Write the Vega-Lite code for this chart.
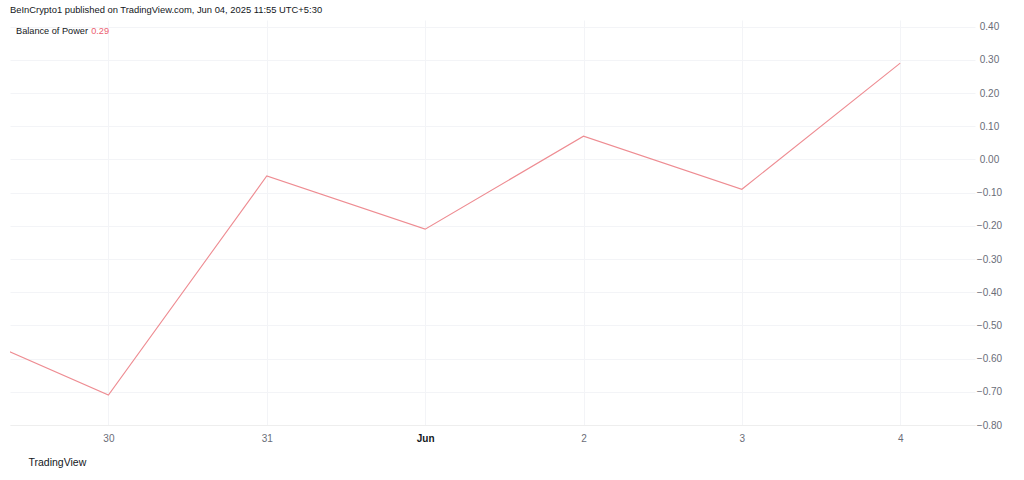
{
  "$schema": "https://vega.github.io/schema/vega-lite/v6.json",
  "width": 965,
  "height": 405,
  "autosize": {"type": "none"},
  "padding": {"left": 10, "top": 20, "right": 49, "bottom": 55},
  "background": "#ffffff",
  "config": {
    "font": "Liberation Sans",
    "view": {"stroke": null}
  },
  "title": {
    "text": "BeInCrypto1 published on TradingView.com, Jun 04, 2025 11:55 UTC+5:30",
    "anchor": "start",
    "frame": "group",
    "fontSize": 9.4,
    "fontWeight": "normal",
    "color": "#131722",
    "offset": 5
  },
  "data": {
    "values": [
      {"date": "2025-05-29", "value": -0.50, "series": "Balance of Power"},
      {"date": "2025-05-30", "value": -0.71, "series": "Balance of Power"},
      {"date": "2025-05-31", "value": -0.05, "series": "Balance of Power"},
      {"date": "2025-06-01", "value": -0.21, "series": "Balance of Power"},
      {"date": "2025-06-02", "value": 0.07, "series": "Balance of Power"},
      {"date": "2025-06-03", "value": -0.09, "series": "Balance of Power"},
      {"date": "2025-06-04", "value": 0.29, "series": "Balance of Power"}
    ]
  },
  "transform": [
    {"joinaggregate": [{"op": "argmax", "field": "date", "as": "lastRow"}]},
    {"calculate": "format(datum.lastRow.value, '.2f')", "as": "bop"}
  ],
  "mark": {"type": "line", "clip": true, "strokeWidth": 1.1, "interpolate": "linear"},
  "encoding": {
    "x": {
      "field": "date",
      "type": "temporal",
      "scale": {
        "type": "utc",
        "domain": [
          {"year": 2025, "month": 5, "date": 29, "hours": 9, "minutes": 5, "utc": true},
          {"year": 2025, "month": 6, "date": 4, "hours": 11, "minutes": 20, "utc": true}
        ]
      },
      "axis": {
        "tickCount": {"interval": "day", "step": 1},
        "labelExpr": "utcdate(datum.value) == 1 ? 'Jun' : '' + utcdate(datum.value)",
        "labelFontWeight": {"condition": {"test": "utcdate(datum.value) == 1", "value": "bold"}, "value": "normal"},
        "labelColor": {"condition": {"test": "utcdate(datum.value) == 1", "value": "#131722"}, "value": "#6a6d78"},
        "labelFontSize": 10,
        "labelPadding": 8,
        "labelBaseline": "top",
        "ticks": false,
        "domain": true,
        "domainColor": "#eeeeee",
        "grid": true,
        "gridColor": "#f3f4f7",
        "labelFlush": false,
        "labelOverlap": false,
        "title": "TradingView",
        "titleFontSize": 10.5,
        "titleFontWeight": "normal",
        "titleColor": "#131722",
        "titleAnchor": "start",
        "titleAlign": "left",
        "titleBaseline": "middle",
        "titleX": 18,
        "titleY": 37
      }
    },
    "y": {
      "field": "value",
      "type": "quantitative",
      "scale": {"domain": [-0.8, 0.42], "nice": false, "zero": false},
      "axis": {
        "orient": "right",
        "values": [-0.8, -0.7, -0.6, -0.5, -0.4, -0.3, -0.2, -0.1, 0, 0.1, 0.2, 0.3, 0.4],
        "format": ".2f",
        "labelAlign": "center",
        "labelPadding": 14,
        "labelBaseline": "middle",
        "labelFontSize": 10,
        "labelColor": "#6a6d78",
        "labelFlush": false,
        "labelOverlap": false,
        "ticks": false,
        "domain": false,
        "grid": true,
        "gridColor": "#f3f4f7",
        "title": null
      }
    },
    "color": {
      "field": "bop",
      "type": "nominal",
      "scale": {"range": ["#ee8c92"]},
      "legend": {
        "orient": "top-left",
        "offset": 6,
        "padding": 0,
        "title": "Balance of Power",
        "titleOrient": "left",
        "titleFontSize": 9.2,
        "titleFontWeight": "normal",
        "titleColor": "#131722",
        "titlePadding": 5,
        "titleBaseline": "middle",
        "labelColor": "#ec6070",
        "labelFontSize": 9.2,
        "labelOffset": -12,
        "symbolSize": 0,
        "symbolOpacity": 0,
        "symbolStrokeWidth": 0
      }
    }
  }
}
